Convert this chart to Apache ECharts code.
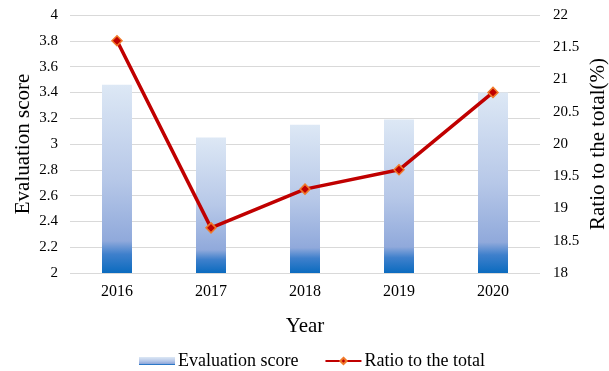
<!DOCTYPE html>
<html>
<head>
<meta charset="utf-8">
<script src="https://cdn.jsdelivr.net/npm/echarts@6/dist/echarts.min.js"></script>
<style>
  html, body { margin: 0; padding: 0; background: #fff; }
  #chart { width: 609px; height: 371px; }
</style>
</head>
<body>
<div id="chart"></div>
<script>
// Years on the category axis
const years = ['2016', '2017', '2018', '2019', '2020'];
// Evaluation score per year (left axis)
const evaluationScore = [3.46, 3.05, 3.15, 3.19, 3.4];
// Share of the total in percent per year (right axis)
const ratioToTotal = [21.6, 18.7, 19.3, 19.6, 20.8];

const FONT = '"Liberation Serif", "Times New Roman", serif';

const barGradient = new echarts.graphic.LinearGradient(0, 0, 0, 1, [
  { offset: 0, color: '#dde8f5' },
  { offset: 0.5, color: '#b7c8e8' },
  { offset: 0.83, color: '#90a9db' },
  { offset: 0.9, color: '#3f80cc' },
  { offset: 1, color: '#0b6bbf' }
]);

const chart = echarts.init(document.getElementById('chart'));
chart.setOption({
  animation: false,
  textStyle: { fontFamily: FONT },
  grid: { left: 70, right: 69, top: 15, bottom: 98, outerBoundsMode: 'none', containLabel: false },
  legend: {
    top: 352,
    left: 139,
    padding: 0,
    itemGap: 26,
    itemWidth: 36,
    itemHeight: 8,
    textStyle: { fontFamily: FONT, fontSize: 18, color: '#000', padding: [0, 0, 0, -2] },
    data: [
      { name: 'Evaluation score', icon: 'rect' },
      { name: 'Ratio to the total' }
    ]
  },
  xAxis: {
    type: 'category',
    data: years,
    name: 'Year',
    nameLocation: 'middle',
    nameGap: 43,
    nameMoveOverlap: false,
    nameTextStyle: { fontFamily: FONT, fontSize: 21, color: '#000' },
    axisLine: { show: false },
    axisTick: { show: false },
    axisLabel: { fontFamily: FONT, fontSize: 16, color: '#000', margin: 11 }
  },
  yAxis: [
    {
      type: 'value',
      min: 2,
      max: 4,
      interval: 0.2,
      name: 'Evaluation score',
      nameLocation: 'middle',
      nameRotate: 90,
      nameGap: 36,
      nameMoveOverlap: false,
      nameTextStyle: { fontFamily: FONT, fontSize: 21, color: '#000' },
      axisLine: { show: false },
      axisTick: { show: false },
      axisLabel: { fontFamily: FONT, fontSize: 15, color: '#000', margin: 12 },
      splitLine: { lineStyle: { color: '#d9d9d9', width: 1 } }
    },
    {
      type: 'value',
      min: 18,
      max: 22,
      interval: 0.5,
      position: 'right',
      name: 'Ratio to the total(%)',
      nameLocation: 'middle',
      nameRotate: 90,
      nameGap: 48,
      nameMoveOverlap: false,
      nameTextStyle: { fontFamily: FONT, fontSize: 21, color: '#000' },
      axisLine: { show: false },
      axisTick: { show: false },
      axisLabel: { fontFamily: FONT, fontSize: 15, color: '#000', margin: 13 },
      splitLine: { show: false }
    }
  ],
  series: [
    {
      name: 'Evaluation score',
      type: 'bar',
      yAxisIndex: 0,
      barWidth: 30,
      data: evaluationScore,
      itemStyle: { color: barGradient }
    },
    {
      name: 'Ratio to the total',
      type: 'line',
      yAxisIndex: 1,
      data: ratioToTotal,
      symbol: 'diamond',
      symbolSize: 10,
      lineStyle: { color: '#c00000', width: 3.5 },
      itemStyle: { color: '#c00000', borderColor: '#f07a2a', borderWidth: 1.5 }
    }
  ]
});
</script>
</body>
</html>
